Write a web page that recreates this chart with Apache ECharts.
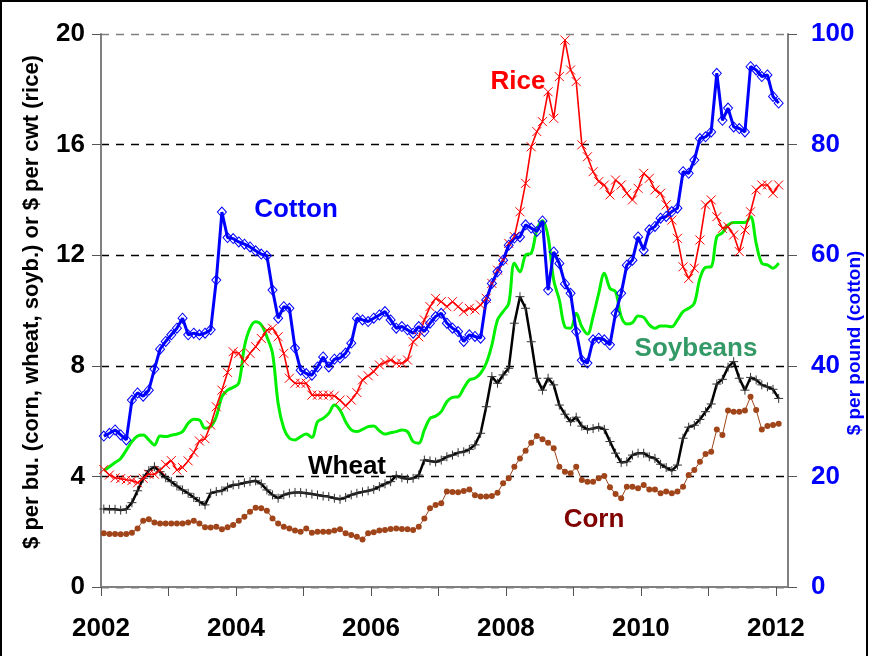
<!DOCTYPE html>
<html>
<head>
<meta charset="utf-8">
<script src="https://cdn.jsdelivr.net/npm/echarts@6/dist/echarts.min.js"></script>
<style>html,body{margin:0;padding:0;background:#fff}#c{width:870px;height:656px}</style>
</head>
<body>
<div id="c"></div>
<script>
// Monthly prices, Jan 2002 .. Jan 2012 (121 months)
const startYear = 2002;
const xTickLabels = [2002, 2004, 2006, 2008, 2010, 2012];
const leftTicks = [0, 4, 8, 12, 16, 20];
const rightTicks = [0, 20, 40, 60, 80, 100];

const cotton = [27.3,27.8,28.4,27.5,26.6,33.8,35.1,34.5,35.6,39.4,
43.0,44.4,45.6,46.8,48.6,45.6,45.9,45.6,45.9,46.5,
55.5,67.8,63.2,63.0,62.4,62.0,61.5,60.8,60.2,59.9,
53.7,48.6,50.7,50.4,43.2,39.2,38.6,38.3,39.8,41.6,
39.8,41.2,41.4,42.3,44.1,48.6,48.3,48.0,48.6,49.2,
49.8,48.3,46.8,47.1,46.5,45.9,47.1,46.2,47.7,48.9,
49.5,47.7,46.8,46.2,44.4,45.6,45.3,45.0,51.9,54.9,
57.0,59.1,61.8,63.1,63.3,65.5,64.9,64.3,66.2,53.7,
60.6,58.5,54.8,53.1,46.2,41.0,40.5,44.7,45.0,44.7,
43.8,49.5,53.1,58.2,59.1,63.3,60.9,64.6,65.2,66.7,
67.0,67.9,68.5,75.1,74.8,77.2,81.1,81.4,82.3,92.9,
84.4,86.6,83.2,82.9,82.3,94.1,93.5,92.3,92.6,88.7,
87.5];

const rice = [4.25,4.05,3.95,3.92,3.88,3.85,3.77,3.93,4.08,4.08,
4.22,4.43,4.57,4.23,4.32,4.56,4.87,5.28,5.36,5.86,
6.52,7.12,7.76,8.51,8.45,8.15,8.45,8.69,8.99,9.29,
9.36,9.05,8.45,7.55,7.37,7.37,7.37,6.94,6.94,6.94,
6.94,6.91,6.76,6.55,6.76,7.03,7.49,7.64,7.79,8.03,
8.12,8.21,8.09,8.09,8.21,8.87,9.05,9.66,10.14,10.44,
10.32,10.14,10.32,10.14,9.96,10.08,10.02,10.2,10.44,10.98,
11.46,11.83,12.43,12.67,13.57,14.60,15.92,16.47,16.83,17.91,
16.95,18.46,19.78,18.70,18.28,15.99,15.56,15.02,14.66,14.54,
14.18,14.72,14.54,14.24,14.0,14.42,14.96,14.78,14.36,14.24,
13.82,13.27,12.61,11.58,11.16,11.53,12.55,13.82,14.0,13.39,
12.97,13.03,12.73,12.13,12.91,13.57,14.36,14.54,14.54,14.24,
14.54];

const soybeans = [4.21,4.35,4.50,4.65,4.95,5.26,5.46,5.50,5.32,5.14,
5.46,5.44,5.49,5.53,5.62,5.92,6.07,6.04,5.74,5.80,
6.16,6.88,7.12,7.22,7.37,8.69,9.36,9.59,9.48,9.05,
8.45,6.64,5.74,5.38,5.32,5.44,5.53,5.41,5.98,6.10,
6.28,6.58,6.40,5.98,5.68,5.62,5.70,5.80,5.82,5.65,
5.53,5.58,5.62,5.68,5.62,5.26,5.20,5.68,6.10,6.18,
6.34,6.70,6.86,6.88,7.19,7.49,7.55,7.73,8.09,8.75,
9.66,9.96,10.26,11.71,11.40,12.01,12.07,12.91,13.25,12.67,
11.10,10.38,9.41,9.36,9.90,9.41,9.15,9.78,10.62,11.35,
10.80,10.68,9.78,9.51,9.56,9.80,9.75,9.48,9.36,9.44,
9.44,9.41,9.66,9.96,10.08,10.26,11.16,11.56,11.58,12.67,
12.81,13.09,13.18,13.18,13.18,13.39,12.43,11.71,11.65,11.53,
11.71];

const wheat = [2.82,2.81,2.81,2.78,2.81,3.05,3.48,3.93,4.21,4.35,
4.17,3.95,3.81,3.65,3.51,3.39,3.24,3.09,2.97,3.39,
3.45,3.48,3.61,3.69,3.71,3.77,3.81,3.84,3.73,3.51,
3.33,3.21,3.33,3.39,3.42,3.42,3.39,3.36,3.33,3.29,
3.27,3.21,3.17,3.24,3.33,3.39,3.44,3.48,3.53,3.63,
3.73,3.81,4.03,3.95,3.91,3.93,4.05,4.59,4.56,4.52,
4.59,4.71,4.77,4.86,4.89,4.98,5.14,5.56,6.52,7.61,
7.37,7.67,7.91,9.54,10.50,10.08,8.87,7.55,7.12,7.55,
7.31,6.58,6.25,5.98,6.14,5.82,5.70,5.73,5.78,5.70,
5.26,4.84,4.50,4.53,4.77,4.84,4.84,4.71,4.65,4.44,
4.32,4.21,4.41,5.38,5.78,5.85,6.06,6.34,6.62,7.34,
7.51,7.95,8.15,7.55,7.12,7.58,7.49,7.31,7.24,7.15,
6.82];

const corn = [1.94,1.92,1.92,1.91,1.92,1.96,2.12,2.40,2.45,2.33,
2.30,2.30,2.30,2.30,2.30,2.33,2.40,2.30,2.16,2.15,
2.18,2.09,2.16,2.24,2.40,2.54,2.72,2.87,2.85,2.76,
2.48,2.30,2.18,2.12,2.04,2.00,2.12,1.96,2.00,2.00,
2.00,2.04,2.09,1.94,1.88,1.82,1.72,1.94,1.98,2.04,
2.06,2.10,2.12,2.10,2.09,2.06,2.18,2.48,2.85,2.97,
3.03,3.45,3.44,3.43,3.47,3.53,3.32,3.27,3.27,3.29,
3.41,3.75,3.93,4.35,4.65,4.93,5.22,5.46,5.34,5.22,
5.02,4.35,4.17,4.11,4.35,3.87,3.81,3.81,3.93,4.01,
3.61,3.36,3.21,3.63,3.63,3.57,3.69,3.53,3.53,3.39,
3.45,3.39,3.45,3.63,4.05,4.23,4.53,4.81,4.89,5.70,
5.50,6.38,6.34,6.34,6.38,6.88,6.40,5.70,5.82,5.86,
5.90];

// month index -> decimal year (mid-month)
function toXY(arr) { return arr.map((v, i) => [startYear + (i + 0.5) / 12, v]); }

const FONT = '"Liberation Sans", Arial, sans-serif';
const crossPath = 'path://M0,0L10,10M0,10L10,0';
const plusPath = 'path://M5,0L5,10M0,5L10,5';

const chart = echarts.init(document.getElementById('c'), null, {renderer: 'canvas'});
chart.setOption({
  animation: false,
  backgroundColor: '#fff',
  grid: {left: 101, right: 82, top: 34, bottom: 69, containLabel: false},
  xAxis: {
    type: 'value', min: 2002, max: 2012.18, interval: 1,
    axisLine: {lineStyle: {color: '#808080', width: 2}},
    axisTick: {show: true, length: 9, lineStyle: {color: '#555', width: 1}},
    axisLabel: {
      margin: 29, color: '#000', fontFamily: FONT, fontWeight: 'bold', fontSize: 26,
      showMaxLabel: false,
      formatter: v => xTickLabels.indexOf(Math.round(v * 1000) / 1000) >= 0 ? String(v) : ''
    },
    splitLine: {show: false}
  },
  yAxis: [{
    type: 'value', min: 0, max: 20, interval: 4, position: 'left',
    axisLine: {show: true, lineStyle: {color: '#808080', width: 2}},
    axisTick: {show: true, length: 9, lineStyle: {color: '#555', width: 1}},
    axisLabel: {margin: 16, color: '#000', fontFamily: FONT, fontWeight: 'bold', fontSize: 26,
      formatter: v => leftTicks.indexOf(v) >= 0 ? String(v) : ''},
    splitLine: {show: true, lineStyle: {type: [8, 7], width: 1.3,
      color: ['#000', '#000', '#000', '#000', '#000', '#808080']}}
  }, {
    type: 'value', min: 0, max: 100, interval: 20, position: 'right',
    axisLine: {show: true, lineStyle: {color: '#808080', width: 2}},
    axisTick: {show: true, length: 9, lineStyle: {color: '#555', width: 1}},
    axisLabel: {margin: 23, color: '#0000ff', fontFamily: FONT, fontWeight: 'bold', fontSize: 26,
      formatter: v => rightTicks.indexOf(v) >= 0 ? String(v) : ''},
    splitLine: {show: false}
  }],
  series: [
    {
      name: 'Corn', type: 'line', yAxisIndex: 0, data: toXY(corn),
      symbol: 'circle', symbolSize: 6, showAllSymbol: true,
      lineStyle: {color: '#a0441a', width: 1},
      itemStyle: {color: '#a0441a'}
    },
    {
      name: 'Soybeans', type: 'line', yAxisIndex: 0, data: toXY(soybeans),
      symbol: 'none', smooth: 0.35,
      lineStyle: {color: '#00f000', width: 3}
    },
    {
      name: 'Wheat', type: 'line', yAxisIndex: 0, data: toXY(wheat),
      symbol: plusPath, symbolSize: 9, showAllSymbol: true,
      lineStyle: {color: '#000', width: 2.5},
      itemStyle: {color: 'rgba(0,0,0,0)', borderColor: '#333', borderWidth: 1}
    },
    {
      name: 'Rice', type: 'line', yAxisIndex: 0, data: toXY(rice),
      symbol: crossPath, symbolSize: 9, showAllSymbol: true,
      lineStyle: {color: '#ff0000', width: 1.6},
      itemStyle: {color: 'rgba(0,0,0,0)', borderColor: '#ff0000', borderWidth: 1}
    },
    {
      name: 'Cotton', type: 'line', yAxisIndex: 1, data: toXY(cotton),
      symbol: 'diamond', symbolSize: [9, 10], showAllSymbol: true,
      lineStyle: {color: '#0000ff', width: 3},
      itemStyle: {color: 'rgba(0,0,0,0)', borderColor: '#0000ff', borderWidth: 1}
    }
  ],
  graphic: [
    {type: 'rect', shape: {x: 1, y: 1, width: 866, height: 680}, style: {fill: 'none', stroke: '#000', lineWidth: 2}, silent: true},
    {type: 'text', x: 32, y: 302, rotation: Math.PI / 2,
      style: {text: '$ per bu. (corn, wheat, soyb.) or $ per cwt (rice)', font: 'bold 22px ' + FONT, fill: '#000', align: 'center', verticalAlign: 'middle'}},
    {type: 'text', x: 855, y: 343, rotation: Math.PI / 2,
      style: {text: '$ per pound (cotton)', font: 'bold 19px ' + FONT, fill: '#0000ff', align: 'center', verticalAlign: 'middle'}},
    {type: 'text', x: 296, y: 210, style: {text: 'Cotton', font: 'bold 26px ' + FONT, fill: '#0000ff', align: 'center', verticalAlign: 'middle'}},
    {type: 'text', x: 518, y: 82, style: {text: 'Rice', font: 'bold 26px ' + FONT, fill: '#ff0000', align: 'center', verticalAlign: 'middle'}},
    {type: 'text', x: 696, y: 349, style: {text: 'Soybeans', font: 'bold 26px ' + FONT, fill: '#339966', align: 'center', verticalAlign: 'middle'}},
    {type: 'text', x: 347, y: 467, style: {text: 'Wheat', font: 'bold 26px ' + FONT, fill: '#000', align: 'center', verticalAlign: 'middle'}},
    {type: 'text', x: 594, y: 520, style: {text: 'Corn', font: 'bold 26px ' + FONT, fill: '#800000', align: 'center', verticalAlign: 'middle'}}
  ]
});
</script>
</body>
</html>
